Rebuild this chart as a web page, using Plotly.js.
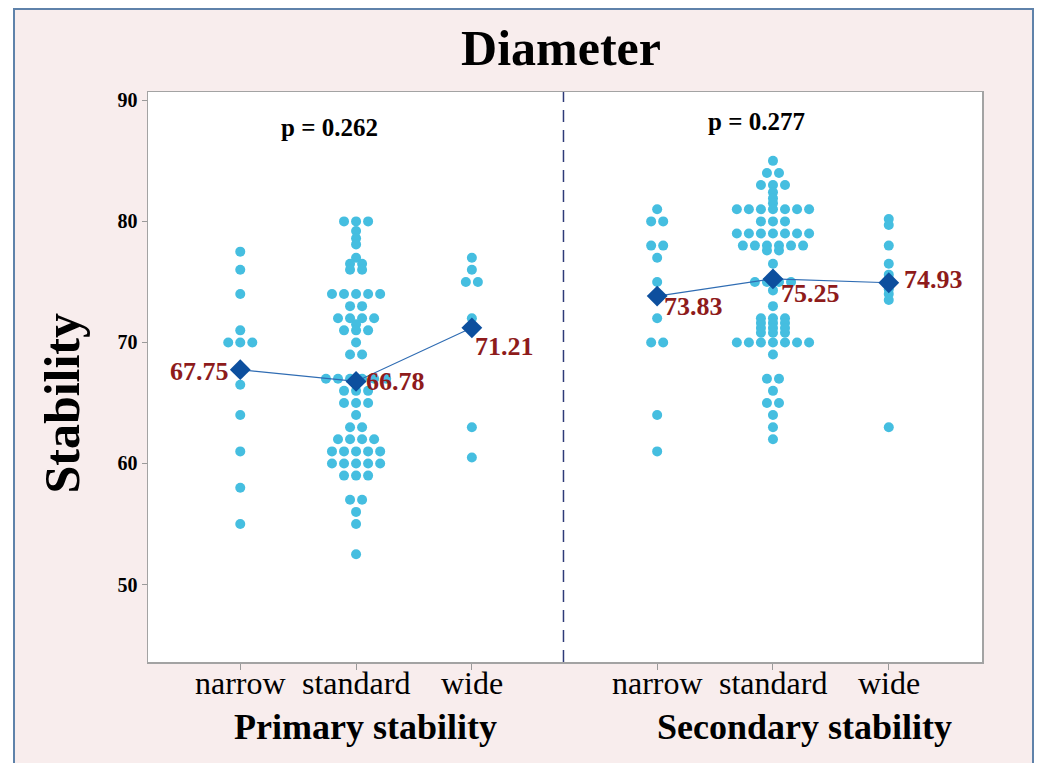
<!DOCTYPE html>
<html>
<head>
<meta charset="utf-8">
<script src="https://cdn.plot.ly/plotly-3.0.1.min.js"></script>
<style>
  html, body { margin:0; padding:0; background:#ffffff; }
  #frame { position:absolute; left:13px; top:8px; width:1021px; height:770px;
           background:#f8eded; border:2px solid #5f82aa; box-sizing:border-box; }
  #chart { position:absolute; left:0; top:0; width:1038px; height:763px; }
</style>
</head>
<body>
<div id="frame"></div>
<div id="chart"></div>
<script>
// ---------- data ----------
const categories = ['narrow', 'standard', 'wide'];
const groupTitles = ['Primary stability', 'Secondary stability'];
const pValues = ['p = 0.262', 'p = 0.277'];

const primNarrow = [77.5, 76, 74, 71, 70, 70, 70, 66.5, 64, 61, 58, 55];
const primStandard = [80, 80, 80, 79.2, 78.6, 78.1, 77, 76.5, 76.5, 76, 76,
  74, 74, 74, 74, 74, 73, 73, 72, 72, 72, 72, 71.5, 71, 71, 71, 70, 69, 69,
  67, 67, 67, 67, 67, 67, 66, 66, 66, 65, 65, 65, 64, 63, 63, 62, 62, 62, 62,
  61, 61, 61, 61, 61, 60, 60, 60, 60, 60, 59, 59, 59, 57, 57, 56, 55, 52.5];
const primWide = [77, 76, 75, 75, 72, 63, 60.5];

const secNarrow = [81, 80, 80, 78, 78, 77, 75, 72, 70, 70, 64, 61];
const secStandard = [85, 84, 84, 83, 83, 83, 82.4, 81.9, 81.5,
  81, 81, 81, 81, 81, 81, 81, 80, 80, 80, 79, 79, 79, 79, 79, 79, 79,
  78, 78, 78, 78, 78, 78, 77.6, 77.6, 76.5, 75, 75, 75, 75, 74.3, 73,
  72, 72, 72, 71.6, 71.6, 71.6, 71.2, 71.2, 71.2, 70.8, 70.8, 70.8,
  70, 70, 70, 70, 70, 70, 70, 69, 67, 67, 66, 65, 65, 64, 63, 62];
const secWide = [80.2, 79.7, 78, 76.5, 75.6, 74.4, 74, 73.5, 63];

const primaryMeans = [67.75, 66.78, 71.21];
const secondaryMeans = [73.83, 75.25, 74.93];

// ---------- layout constants (positions / styles) ----------
const primaryPos = [1, 2, 3];
const secondaryPos = [4.6, 5.6, 6.6];
const dividerX = 3.791;
const dotStep = 0.104;               // horizontal spacing of stacked dots (x units)
const dotColor = '#45bee0';
const meanColor = '#0d4f9e';
const lineColor = '#2f6cb3';
const labelColor = '#8e1b1b';
const serif = 'Liberation Serif, Times New Roman, serif';
// label offsets (px) for each mean label: [xanchor, xshift, yshift]
const primLabelStyle = [['right', -9, -2], ['left', 8, 0], ['left', 1, -19]];
const secLabelStyle = [['left', 5, -10], ['left', 6, -15], ['left', 13, 3]];

// ---------- dot-plot placement computed from values ----------
function dotTrace(values, center) {
  const counts = {};
  values.forEach(v => { counts[v] = (counts[v] || 0) + 1; });
  const seen = {};
  const xs = [], ys = [];
  values.forEach(v => {
    const n = counts[v];
    const i = seen[v] || 0;
    seen[v] = i + 1;
    xs.push(center + (i - (n - 1) / 2) * dotStep);
    ys.push(v);
  });
  return {
    type: 'scatter', mode: 'markers', x: xs, y: ys, hoverinfo: 'y',
    marker: { color: dotColor, size: 10, line: { width: 0 } }
  };
}

const traces = [
  dotTrace(primNarrow, primaryPos[0]),
  dotTrace(primStandard, primaryPos[1]),
  dotTrace(primWide, primaryPos[2]),
  dotTrace(secNarrow, secondaryPos[0]),
  dotTrace(secStandard, secondaryPos[1]),
  dotTrace(secWide, secondaryPos[2]),
];

function meanTrace(pos, means) {
  return {
    type: 'scatter', mode: 'lines+markers', x: pos, y: means,
    line: { color: lineColor, width: 1.2 },
    marker: { symbol: 'diamond', size: 16, color: meanColor },
    hoverinfo: 'y'
  };
}
traces.push(meanTrace(primaryPos, primaryMeans));
traces.push(meanTrace(secondaryPos, secondaryMeans));

const annotations = [];
function meanLabels(pos, means, styles) {
  means.forEach((m, i) => {
    annotations.push({
      x: pos[i], y: m, xref: 'x', yref: 'y', text: m.toFixed(2), showarrow: false,
      xanchor: styles[i][0], yanchor: 'middle', xshift: styles[i][1], yshift: styles[i][2],
      font: { family: serif, size: 26, color: labelColor, weight: 'bold' }
    });
  });
}
meanLabels(primaryPos, primaryMeans, primLabelStyle);
meanLabels(secondaryPos, secondaryMeans, secLabelStyle);

// category tick labels (placed just under the axis)
primaryPos.concat(secondaryPos).forEach((p, i) => {
  annotations.push({
    x: p, xref: 'x', y: 0, yref: 'paper', yshift: -21, text: categories[i % 3],
    showarrow: false, xanchor: 'center', yanchor: 'middle',
    font: { family: serif, size: 32, color: '#000' }
  });
});

// p-values
annotations.push({ xref: 'paper', yref: 'paper', x: 0.2173, y: 0.938, text: pValues[0],
  showarrow: false, xanchor: 'center', yanchor: 'middle',
  font: { family: serif, size: 25, color: '#000', weight: 'bold' } });
annotations.push({ xref: 'paper', yref: 'paper', x: 0.7292, y: 0.949, text: pValues[1],
  showarrow: false, xanchor: 'center', yanchor: 'middle',
  font: { family: serif, size: 25, color: '#000', weight: 'bold' } });

// group titles
annotations.push({ xref: 'paper', yref: 'paper', x: 0.2605, y: -0.1146, text: groupTitles[0],
  showarrow: false, xanchor: 'center', yanchor: 'middle',
  font: { family: serif, size: 36, color: '#000', weight: 'bold' } });
annotations.push({ xref: 'paper', yref: 'paper', x: 0.7877, y: -0.1146, text: groupTitles[1],
  showarrow: false, xanchor: 'center', yanchor: 'middle',
  font: { family: serif, size: 36, color: '#000', weight: 'bold' } });

// y title
annotations.push({ xref: 'paper', yref: 'paper', x: -0.1027, y: 0.454, text: 'Stability',
  showarrow: false, xanchor: 'center', yanchor: 'middle', textangle: -90,
  font: { family: serif, size: 50, color: '#000', weight: 'bold' } });

const layout = {
  width: 1038, height: 763,
  margin: { l: 148, r: 56, t: 92, b: 101, pad: 0 },
  paper_bgcolor: 'rgba(0,0,0,0)',
  plot_bgcolor: '#ffffff',
  showlegend: false,
  title: { text: 'Diameter', x: 0.5405, xanchor: 'center', y: 1 - 47 / 763, yanchor: 'middle',
    yref: 'container', font: { family: serif, size: 50, color: '#000', weight: 'bold' } },
  xaxis: {
    range: [0.2033, 7.405], tickmode: 'array',
    tickvals: primaryPos.concat(secondaryPos),
    showticklabels: false,
    ticks: 'outside', ticklen: 6, tickcolor: '#9a9a9a', tickwidth: 1,
    showline: true, linecolor: '#a3a3a3', linewidth: 1.5, mirror: true,
    showgrid: false, zeroline: false
  },
  yaxis: {
    range: [43.6, 90.69], tickmode: 'array', tickvals: [50, 60, 70, 80, 90],
    tickfont: { family: serif, size: 20, color: '#000', weight: 'bold' },
    ticks: 'outside', ticklen: 5, tickcolor: '#9a9a9a', tickwidth: 1,
    showline: true, linecolor: '#a3a3a3', linewidth: 1.5, mirror: true,
    showgrid: false, zeroline: false
  },
  shapes: [{
    type: 'line', xref: 'x', yref: 'paper', x0: dividerX, x1: dividerX, y0: 0, y1: 1,
    line: { color: '#2e3a78', width: 1.5, dash: '12px,8px' }
  }],
  annotations: annotations
};

Plotly.newPlot('chart', traces, layout, { displayModeBar: false, staticPlot: true });
</script>
</body>
</html>
